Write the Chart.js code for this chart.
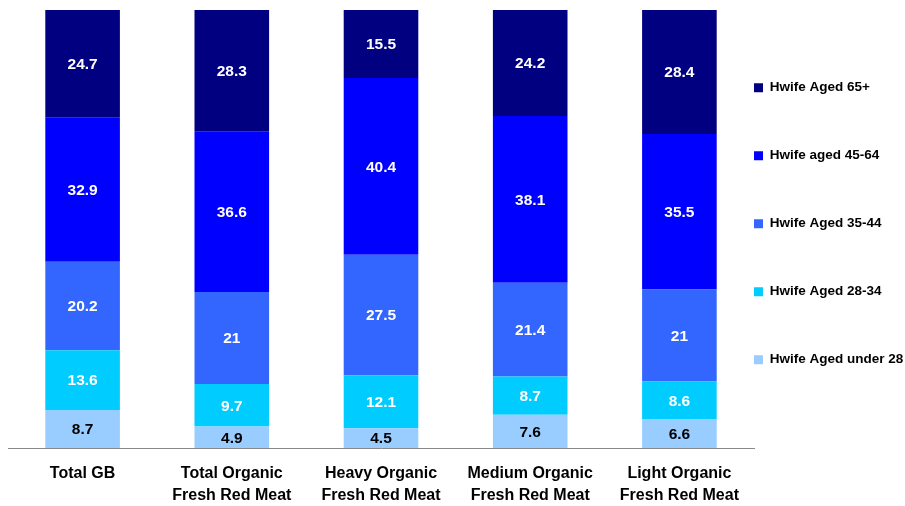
<!doctype html>
<html lang="en">
<head>
  <meta charset="utf-8">
  <title>Hwife age profile - Organic Fresh Red Meat</title>
  <style>
    * {
      margin: 0;
      padding: 0;
    }
    body {
      background: white;
    }
    .chartBox {
      width: 905px;
      height: 506px;
      position: relative;
    }
  </style>
</head>
<body>
  <div class="chartBox">
    <canvas id="myChart"></canvas>
  </div>

  <script src="https://cdn.jsdelivr.net/npm/chart.js"></script>
  <script>
    // categories (x-axis), two lines each
    const categories = [
      ['Total GB'],
      ['Total Organic', 'Fresh Red Meat'],
      ['Heavy Organic', 'Fresh Red Meat'],
      ['Medium Organic', 'Fresh Red Meat'],
      ['Light Organic', 'Fresh Red Meat']
    ];

    // series, bottom of the stack first
    const seriesNames = ['Hwife Aged under 28', 'Hwife Aged 28-34', 'Hwife Aged 35-44', 'Hwife aged 45-64', 'Hwife Aged 65+'];
    const under28 = [8.7, 4.9, 4.5, 7.6, 6.6];
    const aged28to34 = [13.6, 9.7, 12.1, 8.7, 8.6];
    const aged35to44 = [20.2, 21, 27.5, 21.4, 21];
    const aged45to64 = [32.9, 36.6, 40.4, 38.1, 35.5];
    const aged65plus = [24.7, 28.3, 15.5, 24.2, 28.4];

    const seriesColors = ['#99ccff', '#00ccff', '#3366ff', '#0000ff', '#000080'];
    const labelColors = ['#000000', '#ffffff', '#ffffff', '#ffffff', '#ffffff'];

    const fontFamily = '"Liberation Sans", Arial, sans-serif';

    const seriesData = [under28, aged28to34, aged35to44, aged45to64, aged65plus];
    const datasets = seriesData.map((values, i) => ({
      label: seriesNames[i],
      data: values,
      backgroundColor: seriesColors[i],
      borderWidth: 0,
      barPercentage: 0.5,
      categoryPercentage: 1.0
    }));

    // value labels in the middle of every segment
    const valueLabels = {
      id: 'valueLabels',
      afterDatasetsDraw(chart) {
        const ctx = chart.ctx;
        const area = chart.chartArea;
        ctx.save();
        ctx.font = 'bold 15.5px ' + fontFamily;
        ctx.textAlign = 'center';
        ctx.textBaseline = 'middle';
        chart.data.datasets.forEach((ds, i) => {
          const meta = chart.getDatasetMeta(i);
          meta.data.forEach((bar, j) => {
            const top = Math.max(bar.y, area.top);
            ctx.fillStyle = labelColors[i];
            ctx.fillText(String(ds.data[j]), bar.x, (top + bar.base) / 2 + 1);
          });
        });
        ctx.restore();
      }
    };

    const config = {
      type: 'bar',
      data: {
        labels: categories,
        datasets: datasets
      },
      options: {
        responsive: true,
        maintainAspectRatio: false,
        animation: false,
        layout: {
          padding: { left: 8, top: 10, right: 0, bottom: 0 }
        },
        scales: {
          x: {
            stacked: true,
            grid: { display: false },
            border: { display: true, color: '#888888', width: 1 },
            ticks: {
              color: '#000000',
              padding: 7,
              maxRotation: 0,
              autoSkip: false,
              font: { family: fontFamily, size: 16, weight: 'bold', lineHeight: 1.35 }
            },
            // keep the axis band at the height of the original
            afterFit(scale) {
              scale.height = 58;
            }
          },
          y: {
            stacked: true,
            display: false,
            min: 0,
            max: 100
          }
        },
        plugins: {
          tooltip: { enabled: false },
          legend: {
            position: 'right',
            align: 'start',
            reverse: true,
            maxWidth: 151,
            title: {
              display: true,
              text: ' ',
              font: { size: 12, lineHeight: '14px' },
              padding: { top: 0, bottom: 57 }
            },
            labels: {
              boxWidth: 9,
              boxHeight: 9,
              padding: 0,
              color: '#000000',
              font: { family: fontFamily, size: 13.5, weight: 'bold', lineHeight: '68px' },
              generateLabels(chart) {
                return chart.data.datasets.map((ds, i) => ({
                  text: [ds.label],
                  fillStyle: ds.backgroundColor,
                  strokeStyle: ds.backgroundColor,
                  fontColor: '#000000',
                  lineWidth: 0,
                  hidden: false,
                  datasetIndex: i
                }));
              }
            }
          }
        }
      },
      plugins: [valueLabels]
    };

    const myChart = new Chart(document.getElementById('myChart'), config);
  </script>
</body>
</html>
